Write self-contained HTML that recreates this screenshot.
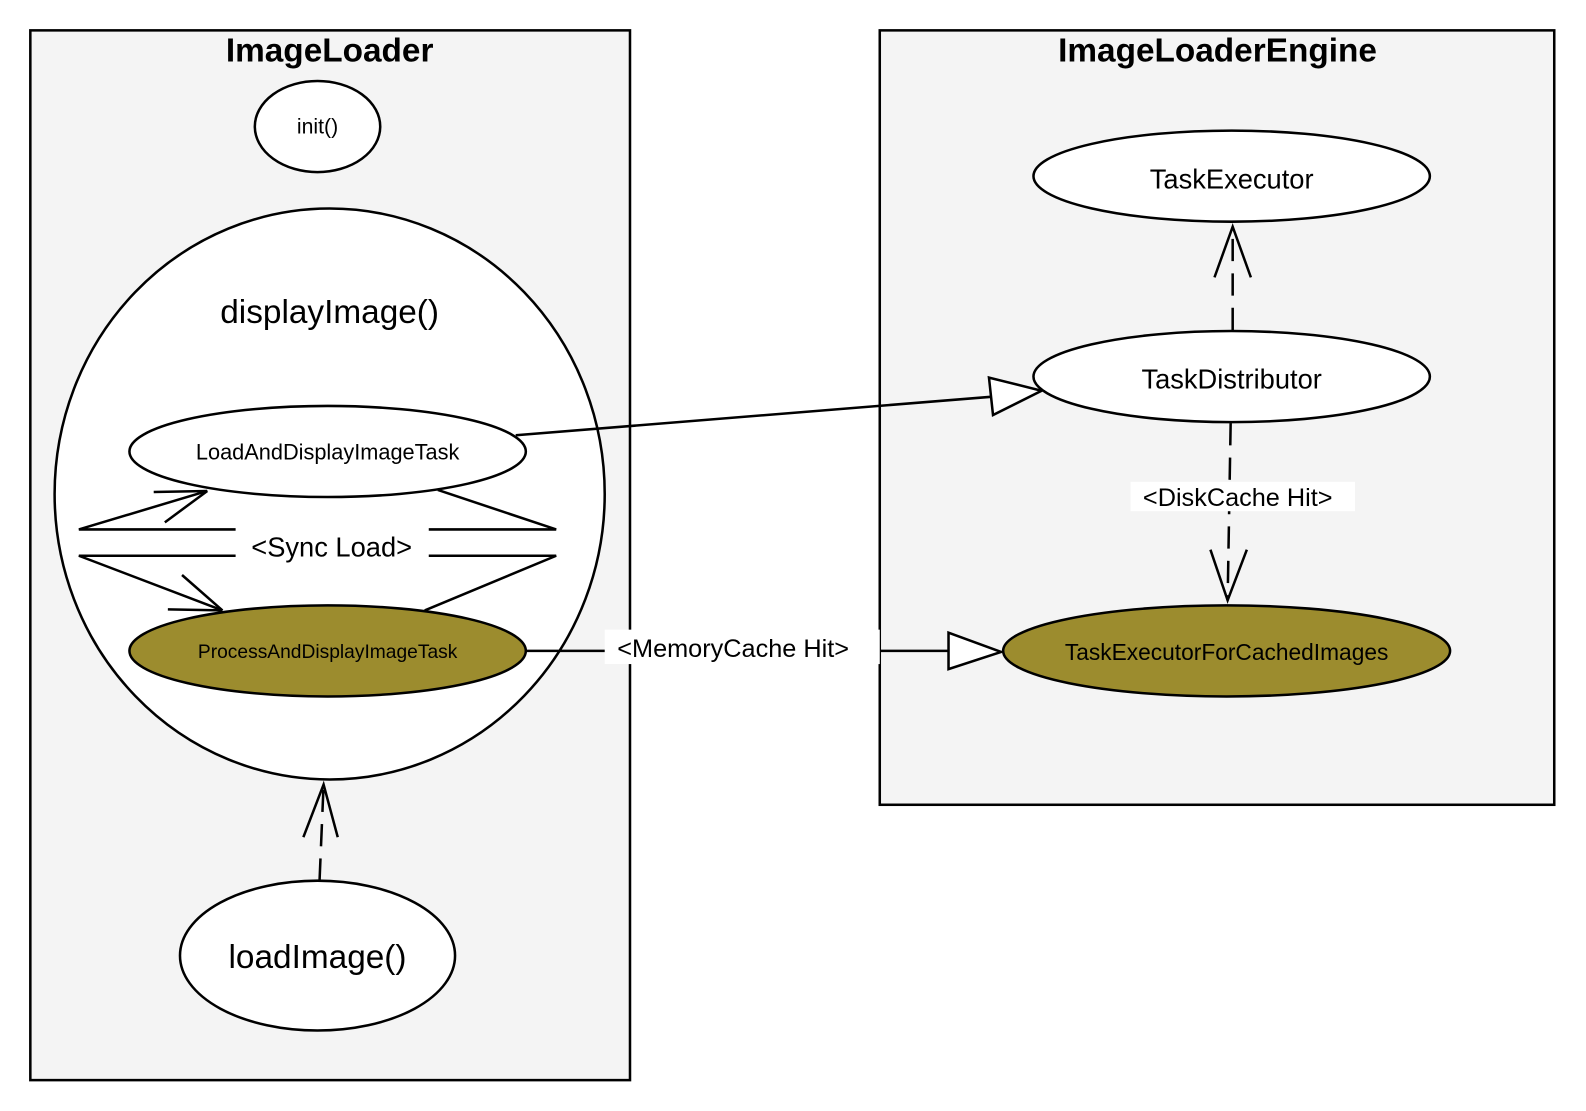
<!DOCTYPE html>
<html><head><meta charset="utf-8"><style>html,body{margin:0;padding:0;background:#fff}svg{display:block}</style></head>
<body>
<svg width="1586" height="1111" viewBox="0 0 1568.4 1097.5" preserveAspectRatio="none" xmlns="http://www.w3.org/2000/svg" font-family="Liberation Sans, sans-serif">
<rect width="1586" height="1111" fill="#fff"/>
<!-- left box -->
<rect x="30" y="30" width="593" height="1037" fill="#f4f4f4" stroke="#000" stroke-width="2.5"/>
<text x="326" y="61" font-size="33" font-weight="bold" text-anchor="middle">ImageLoader</text>
<ellipse cx="314" cy="125" rx="62" ry="45" fill="#fff" stroke="#000" stroke-width="2.5"/>
<text x="314" y="132" font-size="21" text-anchor="middle">init()</text>
<ellipse cx="326" cy="488" rx="272" ry="282" fill="#fff" stroke="#000" stroke-width="2.5"/>
<text x="326" y="319" font-size="33" text-anchor="middle">displayImage()</text>
<ellipse cx="324" cy="446" rx="196" ry="45" fill="#fff" stroke="#000" stroke-width="2.5"/>
<text x="324" y="454" font-size="21.5" text-anchor="middle">LoadAndDisplayImageTask</text>
<ellipse cx="324" cy="643" rx="196" ry="45" fill="#9c8c2e" stroke="#000" stroke-width="2.5"/>
<text x="324" y="650" font-size="19" text-anchor="middle">ProcessAndDisplayImageTask</text>
<g stroke="#000" stroke-width="2.5" fill="none">
<polyline points="433,484 550,523 424,523"/>
<polyline points="233,523 78,523 205,485"/>
<line x1="152" y1="486" x2="205" y2="485"/>
<line x1="163" y1="516" x2="205" y2="485"/>
<polyline points="420,603 550,549 424,549"/>
<polyline points="233,549 78,549 220,603"/>
<line x1="166" y1="602" x2="220" y2="603"/>
<line x1="180" y1="568" x2="220" y2="603"/>
</g>
<text x="328" y="550" font-size="27" text-anchor="middle">&lt;Sync Load&gt;</text>
<ellipse cx="314" cy="944" rx="136" ry="74" fill="#fff" stroke="#000" stroke-width="2.5"/>
<text x="314" y="956" font-size="33" text-anchor="middle">loadImage()</text>
<g stroke="#000" stroke-width="2.5" fill="none">
<line x1="316" y1="870" x2="320" y2="775" stroke-dasharray="22,12"/>
<polyline points="300,827 320,775 334,827"/>
</g>
<!-- right box -->
<rect x="870" y="30" width="667" height="765" fill="#f4f4f4" stroke="#000" stroke-width="2.5"/>
<text x="1204" y="61" font-size="33" font-weight="bold" text-anchor="middle">ImageLoaderEngine</text>
<ellipse cx="1218" cy="174" rx="196" ry="45" fill="#fff" stroke="#000" stroke-width="2.5"/>
<text x="1218" y="186" font-size="27" text-anchor="middle">TaskExecutor</text>
<ellipse cx="1218" cy="372" rx="196" ry="45" fill="#fff" stroke="#000" stroke-width="2.5"/>
<text x="1218" y="384" font-size="27" text-anchor="middle">TaskDistributor</text>
<ellipse cx="1213" cy="643" rx="221" ry="45" fill="#9c8c2e" stroke="#000" stroke-width="2.5"/>
<text x="1213" y="652" font-size="22.5" text-anchor="middle">TaskExecutorForCachedImages</text>
<g stroke="#000" stroke-width="2.5" fill="none">
<line x1="1219" y1="326" x2="1219" y2="224" stroke-dasharray="22,12"/>
<polyline points="1201,274 1219,224 1237,274"/>
<line x1="1217" y1="418" x2="1214" y2="593" stroke-dasharray="22,12"/>
<polyline points="1197,543 1214,593 1233,543"/>
</g>
<rect x="1118" y="476" width="222" height="29" fill="#fff"/>
<text x="1224" y="500" font-size="25" text-anchor="middle">&lt;DiskCache Hit&gt;</text>
<g stroke="#000" stroke-width="2.5">
<line x1="510" y1="430" x2="980" y2="392"/>
<polygon points="978,373 1030,386 982,410" fill="#fff"/>
<line x1="520" y1="643" x2="600" y2="643"/>
<line x1="870" y1="643" x2="938" y2="643"/>
<polygon points="938,625 990,644 938,661" fill="#fff"/>
</g>
<rect x="598" y="622" width="272" height="34" fill="#fff"/>
<text x="725" y="649" font-size="25" text-anchor="middle">&lt;MemoryCache Hit&gt;</text>
</svg>
</body></html>
